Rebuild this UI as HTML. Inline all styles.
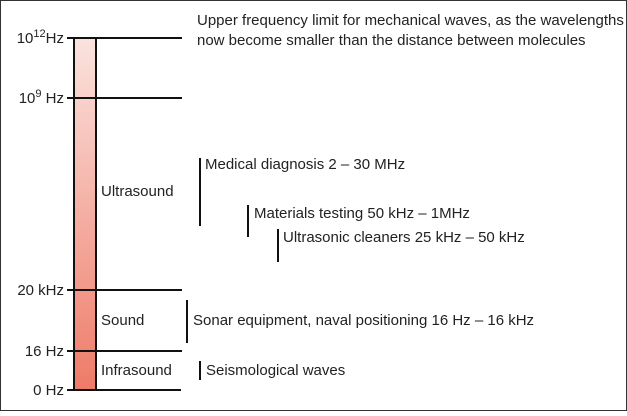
<!DOCTYPE html>
<html><head><style>
body{margin:0;width:627px;height:411px;overflow:hidden;background:#fff}
svg text{font-family:"Liberation Sans",sans-serif;font-size:15px;fill:#222}
</style></head><body>
<svg width="627" height="411" xmlns="http://www.w3.org/2000/svg">
<defs><linearGradient id="g" x1="0" y1="0" x2="0" y2="1">
<stop offset="0" stop-color="#fbe3df"/><stop offset="1" stop-color="#ee7b68"/></linearGradient></defs>
<rect x="0.5" y="0.5" width="626" height="410" fill="#fff" stroke="#333"/>
<rect x="74" y="38" width="22" height="352" fill="url(#g)" stroke="#111" stroke-width="2"/>
<g stroke="#111" stroke-width="2">
<line x1="67" y1="38" x2="182" y2="38"/>
<line x1="67" y1="98" x2="182" y2="98"/>
<line x1="67" y1="290" x2="182" y2="290"/>
<line x1="67" y1="351" x2="182" y2="351"/>
<line x1="67" y1="390" x2="181" y2="390"/>
<line x1="200" y1="158" x2="200" y2="226"/>
<line x1="248" y1="205" x2="248" y2="237"/>
<line x1="278" y1="229" x2="278" y2="262"/>
<line x1="187" y1="300" x2="187" y2="343"/>
<line x1="200" y1="361" x2="200" y2="380"/>
</g>
<g text-anchor="end">
<text x="64" y="43">10<tspan dy="-6" font-size="11">12</tspan><tspan dy="6">Hz</tspan></text>
<text x="64" y="103">10<tspan dy="-6" font-size="11">9</tspan><tspan dy="6"> Hz</tspan></text>
<text x="64" y="295">20 kHz</text>
<text x="64" y="356">16 Hz</text>
<text x="64" y="395">0 Hz</text>
</g>
<text x="101" y="196">Ultrasound</text>
<text x="101" y="325">Sound</text>
<text x="101" y="375">Infrasound</text>
<text x="197" y="25">Upper frequency limit for mechanical waves, as the wavelengths</text>
<text x="197" y="45">now become smaller than the distance between molecules</text>
<text x="205" y="169">Medical diagnosis 2 – 30 MHz</text>
<text x="254" y="218">Materials testing 50 kHz – 1MHz</text>
<text x="283" y="242">Ultrasonic cleaners 25 kHz – 50 kHz</text>
<text x="193" y="325">Sonar equipment, naval positioning 16 Hz – 16 kHz</text>
<text x="206" y="375">Seismological waves</text>
</svg>
</body></html>
